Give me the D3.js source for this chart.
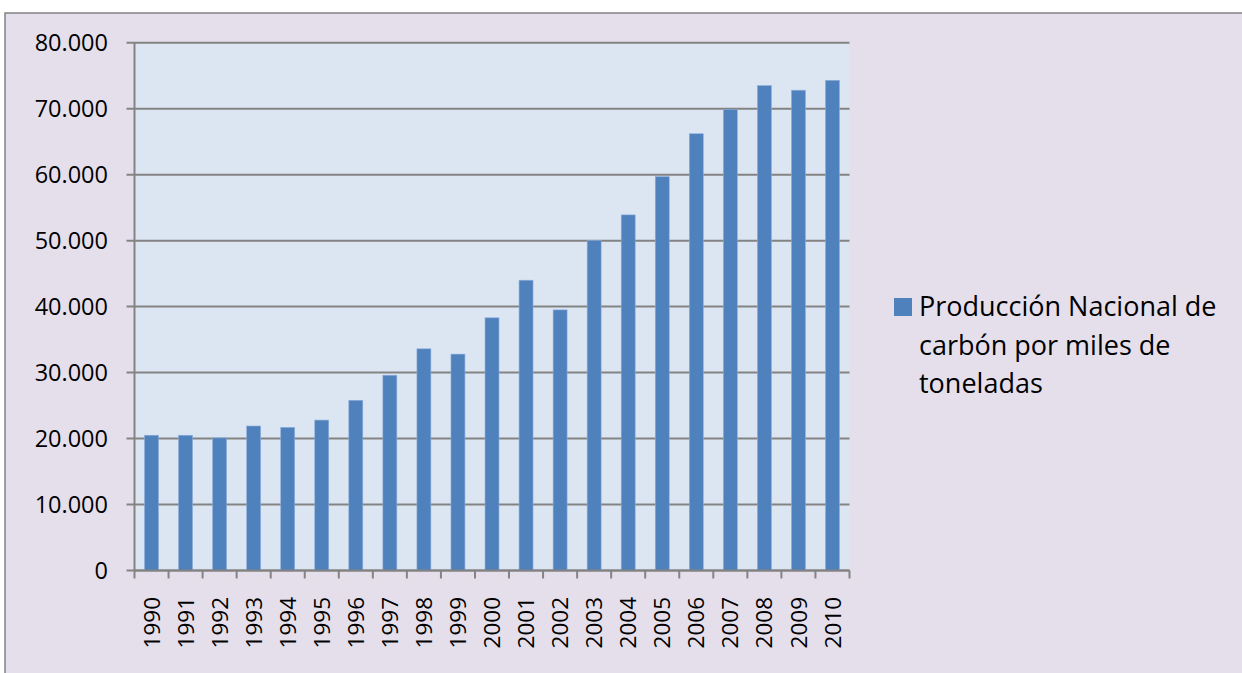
<!DOCTYPE html>
<html>
<head>
<meta charset="utf-8">
<script src="https://cdn.jsdelivr.net/npm/d3@7"></script>
<style>
  body { margin: 0; background: #fff; }
  svg { display: block; font-family: "Open Sans", sans-serif; }
</style>
</head>
<body>
<svg width="1242" height="673"></svg>
<script>
// datos: producción nacional de carbón (miles de toneladas)
const years = ['1990', '1991', '1992', '1993', '1994', '1995', '1996', '1997', '1998', '1999',
  '2000', '2001', '2002', '2003', '2004', '2005', '2006', '2007', '2008', '2009', '2010'];
const production = [20500, 20500, 20100, 21900, 21700, 22800, 25800, 29600, 33600, 32800,
  38300, 44000, 39500, 50000, 53900, 59700, 66200, 69900, 73500, 72800, 74300];
const yTicks = [0, 10000, 20000, 30000, 40000, 50000, 60000, 70000, 80000];
const legendLines = ['Producción Nacional de', 'carbón por miles de', 'toneladas'];

const svg = d3.select('svg');
const gray = '#838383';

// fondo del gráfico (el marco sigue fuera de la imagen a la derecha y abajo)
svg.append('rect')
  .attr('x', 5).attr('y', 13)
  .attr('width', 1300).attr('height', 700)
  .attr('fill', '#e5dfec')
  .attr('stroke', gray)
  .attr('stroke-width', 1.5);

const plot = { left: 134.5, right: 849.5, top: 42.7, bottom: 570.5 };

const x = d3.scaleBand()
  .domain(years)
  .range([plot.left, plot.right])
  .paddingInner(0.59)
  .paddingOuter(0.295);

const y = d3.scaleLinear()
  .domain([0, 80000])
  .range([plot.bottom, plot.top]);

svg.append('rect')
  .attr('x', plot.left).attr('y', plot.top)
  .attr('width', plot.right - plot.left)
  .attr('height', plot.bottom - plot.top)
  .attr('fill', '#dce6f2');

// líneas de cuadrícula + marcas eje y
const fmt = (v) => v === 0 ? '0' : d3.format(',')(v).replace(/,/g, '.');

svg.selectAll('.grid')
  .data(yTicks)
  .join('line')
  .attr('class', 'grid')
  .attr('x1', plot.left - 8).attr('x2', plot.right)
  .attr('y1', (d) => y(d)).attr('y2', (d) => y(d))
  .attr('stroke', gray)
  .attr('stroke-width', 2);

svg.selectAll('.ylab')
  .data(yTicks)
  .join('text')
  .attr('class', 'ylab')
  .attr('x', 108)
  .attr('y', (d) => y(d))
  .attr('dy', '0.36em')
  .attr('text-anchor', 'end')
  .attr('font-size', 23.5)
  .attr('fill', '#000')
  .text(fmt);

// barras
svg.selectAll('.bar')
  .data(production)
  .join('rect')
  .attr('class', 'bar')
  .attr('x', (d, i) => x(years[i]))
  .attr('y', (d) => y(d))
  .attr('width', x.bandwidth())
  .attr('height', (d) => y(0) - y(d))
  .attr('fill', '#4f81bd')
  .attr('stroke', '#8eaedb')
  .attr('stroke-width', 0.6);

// eje y
svg.append('line')
  .attr('x1', plot.left).attr('x2', plot.left)
  .attr('y1', plot.top).attr('y2', plot.bottom)
  .attr('stroke', gray).attr('stroke-width', 2);

// eje x con marcas entre categorías
svg.append('line')
  .attr('x1', plot.left).attr('x2', plot.right)
  .attr('y1', plot.bottom).attr('y2', plot.bottom)
  .attr('stroke', gray).attr('stroke-width', 2);

const bounds = d3.range(years.length + 1).map((i) => plot.left + i * x.step());
svg.selectAll('.xtick')
  .data(bounds)
  .join('line')
  .attr('class', 'xtick')
  .attr('x1', (d) => d).attr('x2', (d) => d)
  .attr('y1', plot.bottom).attr('y2', plot.bottom + 8)
  .attr('stroke', gray).attr('stroke-width', 2);

svg.selectAll('.xlab')
  .data(years)
  .join('text')
  .attr('class', 'xlab')
  .attr('transform', (d) => `translate(${x(d) + x.bandwidth() / 2},597) rotate(-90)`)
  .attr('dy', '0.36em')
  .attr('text-anchor', 'end')
  .attr('font-size', 22.5)
  .attr('fill', '#000')
  .text((d) => d);

// leyenda
svg.append('rect')
  .attr('x', 894).attr('y', 298)
  .attr('width', 18).attr('height', 18)
  .attr('fill', '#4f81bd');

svg.selectAll('.leg')
  .data(legendLines)
  .join('text')
  .attr('class', 'leg')
  .attr('x', 919)
  .attr('y', (d, i) => 316 + i * 38.5)
  .attr('font-size', 27)
  .attr('fill', '#000')
  .text((d) => d);
</script>
</body>
</html>
